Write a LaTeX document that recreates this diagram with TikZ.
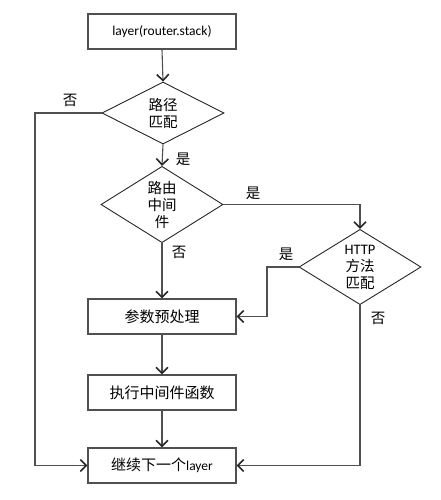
\documentclass[tikz,border=0pt]{standalone}
\usepackage{fontspec}
\setmainfont{Carlito}
\newfontfamily\cjk{Noto Sans CJK SC}
\usetikzlibrary{arrows.meta,shapes.geometric,shadows}
\definecolor{linec}{HTML}{505050}
\tikzset{
  box/.style={draw=linec, line width=1.1pt, minimum width=148pt, minimum height=35pt, inner sep=0pt, fill=white,
    drop shadow={shadow xshift=1pt, shadow yshift=-1pt, opacity=0.25}, font=\fontsize{13.5}{15}\selectfont},
  dia/.style={diamond, draw=black!85, line width=0.9pt, minimum width=122pt, minimum height=62pt, inner sep=0pt, fill=white,
    align=center, font=\cjk\fontsize{14.5}{17}\selectfont},
  arr/.style={draw=linec, line width=1.1pt, -{Straight Barb[length=6pt,width=12pt,line width=1.6pt,color=black!85]}},
  lbl/.style={font=\cjk\fontsize{14.5}{15}\selectfont, inner sep=0pt}
}
\begin{document}
\begin{tikzpicture}[x=1pt,y=-1pt]
\useasboundingbox (0,0) rectangle (440,500);
\node[box] (b1) at (162,31.5) {layer(router.stack)};
\node[dia] (d1) at (163,113) {路径\\匹配};
\node[dia] (d2) at (162,204.5) {路由\\中间\\件};
\node[dia] (d3) at (360,267) {\rmfamily HTTP\\方法\\匹配};
\node[box] (b2) at (162,316.5) {\cjk\fontsize{15}{17}\selectfont 参数预处理};
\node[box] (b3) at (162,392.5) {\cjk\fontsize{15}{17}\selectfont 执行中间件函数};
\node[box] (b4) at (162,465.5) {{\cjk\fontsize{15}{17}\selectfont 继续下一个}layer};
\coordinate (L) at (35,0);
\coordinate (M) at (267,0);
\draw[arr] (b1.south) -- (d1.north);
\draw[arr] (d1.south) -- (d2.north);
\draw[arr] (d2.south) -- (b2.north);
\draw[arr] (b2.south) -- (b3.north);
\draw[arr] (b3.south) -- (b4.north);
\draw[arr] (d1.west) -- (d1.west -| L) |- (b4.west);
\draw[arr] (d2.east) -| (d3.north);
\draw[arr] (d3.west) -- (d3.west -| M) |- (b2.east);
\draw[arr] (d3.south) |- (b4.east);
\node[lbl] (t1) at (70,100) {否};
\node[lbl] (t2) at (183,159) {是};
\node[lbl] (t3) at (253,193) {是};
\node[lbl] (t4) at (179,252) {否};
\node[lbl] (t5) at (286,254) {是};
\node[lbl] (t6) at (378,318) {否};
\end{tikzpicture}
\end{document}
